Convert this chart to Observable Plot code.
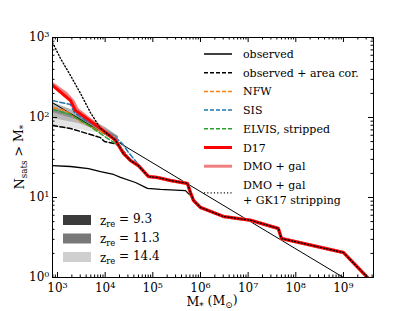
<!DOCTYPE html>
<html><head><meta charset="utf-8">
<script src="https://cdn.jsdelivr.net/npm/d3@7"></script>
<script src="https://cdn.jsdelivr.net/npm/@observablehq/plot@0.6"></script>
<style>body{margin:0;background:#fff} svg text{font-family:"DejaVu Serif",serif !important}</style>
</head><body><div id="chart"></div>
<script>
// ---- data ----
const d17M = [785, 1870, 2390, 7980, 16500, 24300, 34000, 50000, 81000, 125000, 234000, 533000, 616000, 713000, 1.0e6, 1.62e6, 3.0e6, 1.12e7, 4.3e7, 5.0e7, 1.0e9, 3.2e9];
const d17N = [251, 163, 122, 73, 52, 35.5, 29, 25, 18.3, 17.8, 16.3, 15, 11.5, 9.2, 7.5, 6.7, 5.8, 5.2, 4.1, 3.07, 2.05, 1];
const dmoM = [785, 1500, 2100, 2600, 7980, 16500, 24300, 34000, 50000, 81000, 125000, 234000, 533000, 616000, 713000, 1.0e6, 1.62e6, 3.0e6, 1.12e7, 4.3e7, 5.0e7, 1.0e9, 3.2e9];
const dmoN = [262, 200, 160, 125, 74, 52, 35.5, 29, 25, 18.3, 17.8, 16.3, 15, 11.5, 9.2, 7.5, 6.7, 5.8, 5.2, 4.1, 3.07, 2.05, 1];
const gk17M = [785, 1156, 1873, 3035, 4920, 7980, 16500, 24300, 34000, 50000, 81000, 125000, 234000, 533000, 616000, 713000, 1.0e6, 1.62e6, 3.0e6, 1.12e7, 4.3e7, 5.0e7, 1.0e9, 3.2e9];
const gk17N = [866, 547, 335, 200, 115, 73, 52, 35.5, 29, 25, 18.3, 17.8, 16.3, 15, 11.5, 9.2, 7.5, 6.7, 5.8, 5.2, 4.1, 3.07, 2.05, 1];
const sisM = [785, 1873, 2275, 3860, 7980, 16500, 23100, 30900, 39300, 50000, 81000, 125000, 234000, 533000];
const sisN = [163, 145, 115, 92, 75, 56, 47, 36.5, 30.7, 25.9, 18.3, 17.8, 16.3, 15];
const nfwM = [785, 1472, 3035, 7980, 16500, 24300, 34000, 50000, 81000, 125000];
const nfwN = [133, 122, 89, 67, 53, 36.5, 29, 25, 18.3, 17.8];
const elvisM = [785, 1873, 4920, 7980, 12900, 19000, 25400, 34000, 50000, 81000, 125000];
const elvisN = [126, 109, 77, 63, 52, 44.7, 35.5, 29, 25, 18.3, 17.8];
const areaM = [785, 1873, 7980, 9680, 16500, 21000, 26700, 34000, 50000, 81000, 125000];
const areaN = [79.4, 73, 56, 50, 47, 42, 35.5, 29, 25, 18.3, 17.8];
const obsM = [785, 1873, 4470, 7980, 15000, 21000, 43300, 77300, 145000, 484000, 647000, 713000, 1.0e6, 1.62e6, 3.0e6, 1.12e7, 4.3e7, 5.0e7, 1.0e9, 3.2e9];
const obsN = [25.1, 24.4, 23, 21.1, 19.4, 17.8, 15.4, 13, 12.6, 12.2, 10.3, 9.2, 7.5, 6.7, 5.8, 5.2, 4.1, 3.07, 2.05, 1];
const fitM = [785, 1.0e9];
const fitN = [153, 1];
// reionization bands
const bandM = [785, 2770, 10200, 19000];
const z93Hi = [154, 115.5, 75, 57.9], z93Lo = [115.5, 91.7, 64.9, 54.6];
const z113Hi = [133, 103, 70.8, 57.9], z113Lo = [97.2, 84.1, 63.1, 54.6];
const z144Hi = [115.5, 91.7, 68.8, 56.2], z144Lo = [75, 70.8, 61.3, 53.1];
const zLabels = ["9.3", "11.3", "14.4"];
const xMajor = [1e3, 1e4, 1e5, 1e6, 1e7, 1e8, 1e9];
const yMajor = [1, 10, 100, 1000];

const pts = (M, N) => M.map((m, i) => ({m, n: N[i]}));
const band = (hi, lo) => bandM.map((m, i) => ({m, hi: hi[i], lo: lo[i]}));

const xDom = [785, 4.27e9], yDom = [1, 1000];
const xMinor = [], yMinor = [];
for (let e = 2; e <= 9; e++) for (let k = 2; k <= 9; k++) { const v = k * 10 ** e; if (v >= xDom[0] && v <= xDom[1]) xMinor.push(v); }
for (let e = 0; e <= 2; e++) for (let k = 2; k <= 9; k++) yMinor.push(k * 10 ** e);

const W = 415, H = 311, mL = 52, mR = 42, mT = 37, mB = 34;
const pW = W - mL - mR, pH = H - mT - mB;
const serif = "DejaVu Serif";
const fmt = d => "10^" + Math.round(Math.log10(d));

const line = (data, o) => Plot.line(data, {x: "m", y: "n", clip: true, ...o});

const chart = Plot.plot({
  width: W, height: H,
  marginLeft: mL, marginRight: mR, marginTop: mT, marginBottom: mB,
  style: {fontFamily: serif, background: "white"},
  x: {type: "log", domain: xDom, axis: null},
  y: {type: "log", domain: yDom, axis: null},
  marks: [
    Plot.areaY(band(z93Hi, z93Lo), {x: "m", y1: "lo", y2: "hi", fill: "black", fillOpacity: 0.3, clip: true}),
    Plot.areaY(band(z113Hi, z113Lo), {x: "m", y1: "lo", y2: "hi", fill: "black", fillOpacity: 0.2, clip: true}),
    Plot.areaY(band(z144Hi, z144Lo), {x: "m", y1: "lo", y2: "hi", fill: "black", fillOpacity: 0.1, clip: true}),
    line(pts(fitM, fitN), {stroke: "black", strokeWidth: 1}),
    line(pts(obsM, obsN), {stroke: "black", strokeWidth: 1.3}),
    line(pts(areaM, areaN), {stroke: "black", strokeWidth: 1.5, strokeDasharray: "5,2.5"}),
    line(pts(nfwM, nfwN), {stroke: "#ff7f0e", strokeWidth: 1.5, strokeDasharray: "5,2.5"}),
    line(pts(sisM, sisN), {stroke: "#1f77b4", strokeWidth: 1.5, strokeDasharray: "5,2.5"}),
    line(pts(elvisM, elvisN), {stroke: "#2ca02c", strokeWidth: 1.5, strokeDasharray: "5,2.5"}),
    line(pts(dmoM, dmoN), {stroke: "#f08080", strokeWidth: 3.5}),
    line(pts(d17M, d17N), {stroke: "#ff0000", strokeWidth: 3}),
    line(pts(gk17M, gk17N), {stroke: "black", strokeWidth: 1.4, strokeDasharray: "1.1,2.2"}),
    // ticks (inward, all four sides)
    Plot.tickX(xMinor, {x: d => d, insetTop: pH - 2.5, stroke: "black"}),
    Plot.tickX(xMinor, {x: d => d, insetBottom: pH - 2.5, stroke: "black"}),
    Plot.tickX(xMajor, {x: d => d, insetTop: pH - 5, stroke: "black"}),
    Plot.tickX(xMajor, {x: d => d, insetBottom: pH - 5, stroke: "black"}),
    Plot.tickY(yMinor, {y: d => d, insetRight: pW - 2.5, stroke: "black"}),
    Plot.tickY(yMinor, {y: d => d, insetLeft: pW - 2.5, stroke: "black"}),
    Plot.tickY(yMajor, {y: d => d, insetRight: pW - 5, stroke: "black"}),
    Plot.tickY(yMajor, {y: d => d, insetLeft: pW - 5, stroke: "black"}),
    Plot.frame({stroke: "black", strokeWidth: 1}),
    Plot.axisX({ticks: xMajor, tickSize: 0, tickPadding: 6, tickFormat: fmt, fontSize: 12, fill: "black", label: null}),
    Plot.axisY({ticks: yMajor, tickSize: 0, tickPadding: 3, tickFormat: fmt, fontSize: 12, fill: "black", label: null})
  ]
});
document.getElementById("chart").appendChild(chart);

const svg = d3.select(chart);
// superscript tick labels
svg.selectAll("text").each(function() {
  const t = d3.select(this);
  const s = this.textContent;
  const m = /^10\^(\d)$/.exec(s);
  if (!m) return;
  const tgt = t.selectAll("tspan").size() ? t.select("tspan") : t;
  tgt.text("");
  tgt.append("tspan").text("10");
  tgt.append("tspan").attr("dy", "-0.5em").attr("font-size", "0.68em").text(m[1]);
});

const g = svg.append("g").attr("font-family", serif).attr("fill", "black").attr("text-anchor", "start");
// axis labels
const xl = g.append("text").attr("x", 212).attr("y", 306).attr("text-anchor", "middle").attr("font-size", 12.5);
xl.append("tspan").text("M");
xl.append("tspan").attr("font-size", "0.7em").attr("dy", "0.3em").text("*");
xl.append("tspan").attr("dy", "-0.3em").text(" (M");
xl.append("tspan").attr("font-size", "0.7em").attr("dy", "0.3em").text("⊙");
xl.append("tspan").attr("dy", "-0.3em").text(")");
const yl = g.append("text").attr("transform", "translate(24,157) rotate(-90)").attr("text-anchor", "middle").attr("font-size", 12.5);
yl.append("tspan").text("N");
yl.append("tspan").attr("font-size", "0.7em").attr("dy", "0.3em").text("sats");
yl.append("tspan").attr("dy", "-0.3em").text(" > M");
yl.append("tspan").attr("font-size", "0.7em").attr("dy", "0.3em").text("*");

// line legend
const leg = [
  {t: ["observed"], s: "black", w: 1.5, d: null},
  {t: ["observed + area cor."], s: "black", w: 1.5, d: "4,2"},
  {t: ["NFW"], s: "#ff7f0e", w: 1.5, d: "4,2"},
  {t: ["SIS"], s: "#1f77b4", w: 1.5, d: "4,2"},
  {t: ["ELVIS, stripped"], s: "#2ca02c", w: 1.5, d: "4,2"},
  {t: ["D17"], s: "#ff0000", w: 3, d: null},
  {t: ["DMO + gal"], s: "#f08080", w: 3, d: null},
  {t: ["DMO + gal", "+ GK17 stripping"], s: "black", w: 1.4, d: "1.1,2.2"}
];
let ly = 54;
leg.forEach((e, i) => {
  const yy = e.t.length > 1 ? ly + 8 : ly;
  g.append("line").attr("x1", 204).attr("x2", 232).attr("y1", yy).attr("y2", yy)
    .attr("stroke", e.s).attr("stroke-width", e.w).attr("stroke-dasharray", e.d);
  e.t.forEach((s, j) => {
    g.append("text").attr("x", 243).attr("y", ly + 4 + j * 15).attr("font-size", 11).text(s);
  });
  ly += 18.7;
});

// band legend
const patch = ["#3b3b3b", "#787878", "#cfcfcf"];
zLabels.forEach((z, i) => {
  const cy = 220 + i * 18.5;
  g.append("rect").attr("x", 63).attr("y", cy - 5).attr("width", 28).attr("height", 10).attr("fill", patch[i]);
  const t = g.append("text").attr("x", 100).attr("y", cy + 4.5).attr("font-size", 12);
  t.append("tspan").text("z");
  t.append("tspan").attr("font-size", "0.7em").attr("dy", "0.3em").text("re");
  t.append("tspan").attr("dy", "-0.3em").text(" = " + z);
});
</script></body></html>
